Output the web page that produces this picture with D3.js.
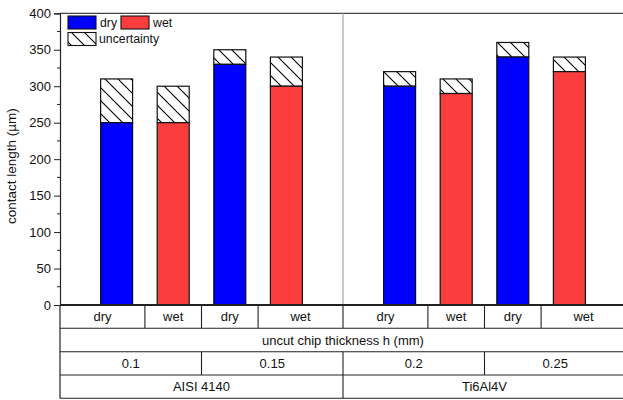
<!DOCTYPE html>
<html><head><meta charset="utf-8">
<script src="https://cdn.jsdelivr.net/npm/d3@7"></script>
<style>body{margin:0;background:#fff}svg{display:block;font-family:"Liberation Sans",Arial,sans-serif}</style>
</head><body><svg id="c" width="623" height="400"></svg>
<script>
const conditions = ["dry","wet","dry","wet","dry","wet","dry","wet"];
const positions = [1,2,3,4,6,7,8,9];
const contactLength = [250,250,330,300,300,290,340,320];
const upperBound = [310,300,350,340,320,310,360,340];
const thicknessLabels = ["0.1","0.15","0.2","0.25"];
const materialLabels = ["AISI 4140","Ti6Al4V"];
const yTicks = [0,50,100,150,200,250,300,350,400];
const yMinorTicks = [25,75,125,175,225,275,325,375];
const rowTitle = "uncut chip thickness h (mm)";
const yTitle = "contact length (\u00b5m)";
const colorDry = "#0000ff", colorWet = "#fb3d3d";

const svg = d3.select("#c");
const x = d3.scaleLinear().domain([0,10]).range([60,626]);
const y = d3.scaleLinear().domain([0,400]).range([305,13.3]);
const bw = 32;

const defs = svg.append("defs");
const pat = defs.append("pattern").attr("id","hatch").attr("patternUnits","userSpaceOnUse")
  .attr("width",13).attr("height",13);
pat.append("rect").attr("width",13).attr("height",13).attr("fill","#fff");
pat.append("path").attr("d","M-1,-1 L14,14 M-14,-1 L1,14 M12,-1 L27,14")
  .attr("stroke","#000").attr("stroke-width",1.1);

// top frame and divider
svg.append("line").attr("x1",60).attr("x2",623).attr("y1",y(400)).attr("y2",y(400)).attr("stroke","#444").attr("stroke-width",1.2);
svg.append("line").attr("x1",x(5)).attr("x2",x(5)).attr("y1",y(400)).attr("y2",y(0)).attr("stroke","#aaa").attr("stroke-width",1.2);

// y axis
const yAxis = svg.append("g").attr("transform","translate(60,0)")
  .call(d3.axisLeft(y).tickValues(yTicks).tickSize(6).tickPadding(3).tickFormat(d3.format("d")));
yAxis.select(".domain").attr("stroke","#222").attr("stroke-width",1.2);
yAxis.selectAll(".tick line").attr("stroke","#222");
yAxis.selectAll(".tick text").attr("font-size",13).attr("font-family","Liberation Sans, Arial, sans-serif").attr("fill","#111");
svg.append("g").selectAll("line").data(yMinorTicks).join("line")
  .attr("x1",57).attr("x2",60).attr("y1",d=>y(d)).attr("y2",d=>y(d)).attr("stroke","#222");
svg.append("text").attr("transform",`translate(16,${(y(0)+y(400))/2+7}) rotate(-90)`)
  .attr("text-anchor","middle").attr("font-size",13.5).attr("fill","#111").text(yTitle);

// bars
const data = conditions.map((c,i)=>({c,p:positions[i],v:contactLength[i],u:upperBound[i]}));
const g = svg.append("g");
g.selectAll("rect.u").data(data).join("rect").attr("class","u")
  .attr("x",d=>x(d.p)-bw/2).attr("width",bw).attr("y",d=>y(d.u)).attr("height",d=>y(d.v)-y(d.u))
  .attr("fill","url(#hatch)").attr("stroke","#111").attr("stroke-width",1.2);
g.selectAll("rect.b").data(data).join("rect").attr("class","b")
  .attr("x",d=>x(d.p)-bw/2).attr("width",bw).attr("y",d=>y(d.v)).attr("height",d=>y(0)-y(d.v))
  .attr("fill",d=>d.c==="dry"?colorDry:colorWet).attr("stroke","#111").attr("stroke-width",1.2);

// legend
const lg = svg.append("g");
const legendItems = [
  {x:68,y:16,fill:colorDry,label:"dry",tx:100,ty:27},
  {x:121,y:16,fill:colorWet,label:"wet",tx:153,ty:27},
  {x:68,y:32.5,fill:"url(#hatch)",label:"uncertainty",tx:99,ty:43}
];
lg.selectAll("rect").data(legendItems).join("rect").attr("x",d=>d.x).attr("y",d=>d.y)
  .attr("width",28).attr("height",13).attr("fill",d=>d.fill).attr("stroke","#111").attr("stroke-width",1.1);
lg.selectAll("text").data(legendItems).join("text").attr("x",d=>d.tx).attr("y",d=>d.ty)
  .attr("font-size",12.3).attr("fill","#111").text(d=>d.label);

// table
const rows = [305,328.3,351.7,375,398.3];
const bounds = [0];
for(let i=1;i<positions.length;i++) bounds.push((positions[i-1]+positions[i])/2);
bounds.push(10);
const tg = svg.append("g");
rows.forEach((r,i)=>tg.append("line").attr("x1",60).attr("x2",623).attr("y1",r).attr("y2",r)
  .attr("stroke","#222").attr("stroke-width",i===0?2:1.1));
tg.append("line").attr("x1",60).attr("x2",60).attr("y1",rows[0]).attr("y2",rows[4]).attr("stroke","#222").attr("stroke-width",1.2);
function cellRow(edges, labels, top, bottom){
  edges.slice(1,-1).forEach(e=>tg.append("line").attr("x1",x(e)).attr("x2",x(e)).attr("y1",top).attr("y2",bottom).attr("stroke","#222").attr("stroke-width",1.1));
  labels.forEach((l,i)=>tg.append("text").attr("x",(x(edges[i])+x(edges[i+1]))/2).attr("y",(top+bottom)/2+4.5)
    .attr("text-anchor","middle").attr("font-size",13).attr("fill","#111").text(l));
}
cellRow(bounds, conditions, rows[0], rows[1]);
cellRow([0,10],[rowTitle], rows[1], rows[2]);
cellRow(bounds.filter((b,i)=>i%2===0), thicknessLabels, rows[2], rows[3]);
cellRow(bounds.filter((b,i)=>i%4===0), materialLabels, rows[3], rows[4]);
</script></body></html>
